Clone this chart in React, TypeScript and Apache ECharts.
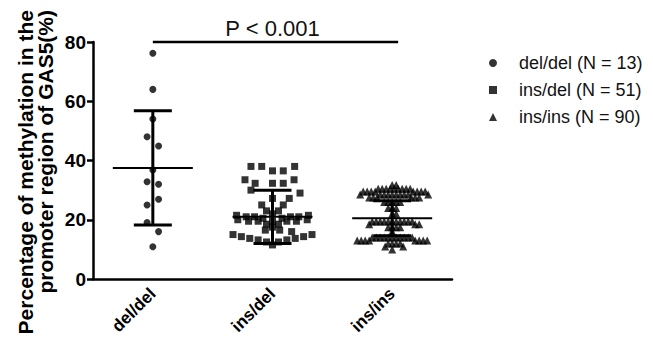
import React, { useEffect, useRef } from 'react';
import * as echarts from 'echarts';

const categories = ['del/del', 'ins/del', 'ins/ins'];
const legendNames = ['del/del (N = 13)', 'ins/del (N = 51)', 'ins/ins (N = 90)'];
const yAxisTitle = 'Percentage of methylation in the\npromoter region of GAS5(%)';
const pLabel = 'P < 0.001';
const bracketFrom = 0;
const bracketTo = 2.05;
const bracketLevel = 80;

const groupMeans = [37.5, 21.0, 20.5];
const groupSDs = [19.3, 9.0, 5.9];

const delDelValues = [76.2, 64.0, 54.0, 48.0, 44.9, 36.8, 32.8, 32.0, 26.9, 25.0, 19.1, 16.0, 10.9];
const delDelJitter = [0, 0, 0, -0.048, 0.048, 0, -0.048, 0.048, 0.048, -0.048, -0.048, 0.048, 0];

const insDelValues = [
  38, 38, 38, 36.5, 36.5, 33.5, 33.5, 32.3, 32.3, 32.3, 30, 29, 27.2, 27.2, 25, 25,
  23, 23, 22, 21.5, 21.5, 21, 21, 21, 21, 20.5, 20.5, 20, 20, 19.5, 19.5, 19.5, 19.5, 19.5,
  18.5, 18.5, 17.5, 16.5, 16.5, 16, 15, 15, 14.3, 14.3, 13.7, 13.7, 13.2, 13.2, 12.5, 12.5, 11.5,
];
const insDelJitter = [
  -0.18, -0.09, 0.185, 0, 0.09, -0.23, 0.18, -0.145, 0, 0.09, -0.18, 0.23, 0, 0.14, -0.09, 0.09,
  -0.05, 0.05, 0, -0.3, 0.3, -0.22, -0.15, 0.15, 0.22, -0.08, 0.08, -0.29, 0.29, -0.2, -0.12, 0, 0.12, 0.2,
  -0.05, 0.05, 0, -0.06, 0.06, 0.16, -0.33, 0.33, -0.26, 0.26, -0.19, 0.19, -0.12, 0.12, -0.05, 0.05, 0,
];

const insInsValues = [
  31.7, 31.7,
  30.5, 30.5, 30.5, 30.5, 30.5, 30.5, 30.5, 30.5, 30.5,
  29.5, 29.5, 29.5, 29.5, 29.5, 29.5, 29.5, 29.5,
  28.5, 28.5, 28.5, 28.5, 28.5, 28.5, 28.5, 28.5, 28.5, 28.5,
  27.5, 27.5, 27.5, 27.5, 27.5, 27.5,
  26, 26, 26, 26, 26,
  24, 24, 24,
  22, 22,
  19.4, 19.4, 19.4, 19.4, 19.4, 19.4, 19.4, 19.4, 19.4, 19.4, 19.4,
  18.5, 18.5, 18.5,
  17.5, 17.5, 17.5, 17.5,
  16,
  14, 14, 14, 14, 14, 14, 14, 14, 14, 14, 14,
  13, 13, 13, 13, 13, 13, 13, 13,
  12, 12, 12, 12,
  11, 11,
  10,
];

const FONT = '"Liberation Sans", Arial, Helvetica, sans-serif';

function swarmOffsets(values: number[], yToPx: (v: number) => number, unitPx: number, minDist: number): number[] {
  const placed: { x: number; y: number }[] = [];
  const out: number[] = [];
  for (const v of values) {
    const y = yToPx(v);
    let chosen = 0;
    for (let k = 0; k < 600; k++) {
      const cands = k === 0 ? [0] : [k * 0.5, -k * 0.5];
      let ok = false;
      for (const c of cands) {
        if (placed.every((p) => (p.x - c) ** 2 + (p.y - y) ** 2 >= minDist * minDist)) {
          chosen = c;
          ok = true;
          break;
        }
      }
      if (ok) break;
    }
    placed.push({ x: chosen, y });
    out.push(chosen / unitPx);
  }
  return out;
}

export default function App() {
  const ref = useRef<HTMLDivElement>(null);

  useEffect(() => {
    document.body.style.margin = '0';
    const chart = echarts.init(ref.current!, null, { renderer: 'svg' });

    const scatterBase = {
      type: 'scatter',
      xAxisIndex: 1,
      yAxisIndex: 0,
      silent: true,
      itemStyle: { color: '#000' },
      emphasis: { disabled: true },
      z: 3,
    };

    const baseOption: any = {
      animation: false,
      backgroundColor: '#fff',
      grid: { left: 93, right: 201, top: 42, bottom: 61, containLabel: false, outerBoundsMode: 'none' },
      legend: {
        orient: 'vertical',
        left: 484,
        top: 49,
        itemWidth: 8,
        itemHeight: 8,
        itemGap: 9,
        data: legendNames,
        textStyle: { fontSize: 18, fontFamily: FONT, color: '#111', padding: [0, 0, 0, 17], lineHeight: 18 },
        selectedMode: false,
      },
      xAxis: [
        {
          type: 'category',
          data: categories,
          boundaryGap: true,
          axisLine: { onZero: false, lineStyle: { color: '#000', width: 2.5 } },
          axisTick: { alignWithLabel: true, length: 6, lineStyle: { color: '#000', width: 2.5 } },
          axisLabel: { rotate: 45, fontSize: 17, fontWeight: 'bold', fontFamily: FONT, color: '#000', margin: 12 },
          splitLine: { show: false },
        },
        { type: 'value', min: -0.5, max: 2.5, show: false, axisLine: { onZero: false } },
      ],
      yAxis: {
        type: 'value',
        min: 0,
        max: 80,
        interval: 20,
        axisLine: { show: true, onZero: false, lineStyle: { color: '#000', width: 2.5 } },
        axisTick: { show: true, length: 6, lineStyle: { color: '#000', width: 2.5 } },
        axisLabel: { fontSize: 19, fontWeight: 'bold', fontFamily: FONT, color: '#000', margin: 7 },
        splitLine: { show: false },
      },
      graphic: [
        {
          type: 'text',
          x: 35,
          y: 10,
          rotation: Math.PI / 2,
          style: {
            text: yAxisTitle,
            fontSize: 21,
            fontWeight: 'bold',
            fontFamily: FONT,
            fill: '#000',
            textAlign: 'right',
            textVerticalAlign: 'middle',
            lineHeight: 20,
          },
        },
      ],
      series: [
        { ...scatterBase, id: 's0', name: legendNames[0], symbol: 'circle', symbolSize: 7, data: [] },
        { ...scatterBase, id: 's1', name: legendNames[1], symbol: 'rect', symbolSize: 7, data: [] },
        { ...scatterBase, id: 's2', name: legendNames[2], symbol: 'triangle', symbolSize: 8, data: [] },
        {
          id: 'stats',
          type: 'custom',
          xAxisIndex: 1,
          yAxisIndex: 0,
          silent: true,
          z: 5,
          data: groupMeans.map((m, i) => [i, m, groupSDs[i]]),
          encode: { x: 0, y: 1 },
          renderItem: (params: any, api: any) => {
            const x = api.value(0);
            const m = api.value(1);
            const s = api.value(2);
            const c = api.coord([x, m]);
            const t = api.coord([x, m + s]);
            const b = api.coord([x, m - s]);
            const st = { stroke: '#000', lineWidth: 3 };
            return {
              type: 'group',
              children: [
                { type: 'line', shape: { x1: c[0] - 40, y1: c[1], x2: c[0] + 40, y2: c[1] }, style: { stroke: '#000', lineWidth: 2 } },
                { type: 'line', shape: { x1: t[0], y1: t[1], x2: b[0], y2: b[1] }, style: st },
                { type: 'line', shape: { x1: t[0] - 19, y1: t[1], x2: t[0] + 19, y2: t[1] }, style: st },
                { type: 'line', shape: { x1: b[0] - 19, y1: b[1], x2: b[0] + 19, y2: b[1] }, style: st },
              ],
            };
          },
        },
        {
          id: 'bracket',
          type: 'custom',
          xAxisIndex: 1,
          yAxisIndex: 0,
          silent: true,
          z: 5,
          data: [[bracketFrom, bracketTo, bracketLevel]],
          encode: { x: [0, 1], y: 2 },
          renderItem: (params: any, api: any) => {
            const a = api.coord([api.value(0), api.value(2)]);
            const b = api.coord([api.value(1), api.value(2)]);
            const mid = api.coord([1, api.value(2)]);
            return {
              type: 'group',
              children: [
                { type: 'line', shape: { x1: a[0], y1: a[1], x2: b[0], y2: b[1] }, style: { stroke: '#000', lineWidth: 2.5 } },
                {
                  type: 'text',
                  x: mid[0],
                  y: mid[1] - 14,
                  style: {
                    text: pLabel,
                    fontSize: 22,
                    fontFamily: FONT,
                    fill: '#111',
                    textAlign: 'center',
                    textVerticalAlign: 'middle',
                  },
                },
              ],
            };
          },
        },
      ],
    };

    chart.setOption(baseOption);

    const yToPx = (v: number) => chart.convertToPixel({ yAxisIndex: 0 } as any, v) as unknown as number;
    const unitPx =
      (chart.convertToPixel({ xAxisIndex: 1 } as any, 1) as unknown as number) -
      (chart.convertToPixel({ xAxisIndex: 1 } as any, 0) as unknown as number);
    const insInsJitter = swarmOffsets(insInsValues, yToPx, unitPx || 119, 4.0);

    chart.setOption({
      series: [
        { id: 's0', data: delDelValues.map((v, i) => [0 + delDelJitter[i], v]) },
        { id: 's1', data: insDelValues.map((v, i) => [1 + insDelJitter[i], v]) },
        { id: 's2', data: insInsValues.map((v, i) => [2 + insInsJitter[i], v]) },
      ],
    });

    return () => chart.dispose();
  }, []);

  return <div ref={ref} style={{ width: 653, height: 340 }} />;
}
